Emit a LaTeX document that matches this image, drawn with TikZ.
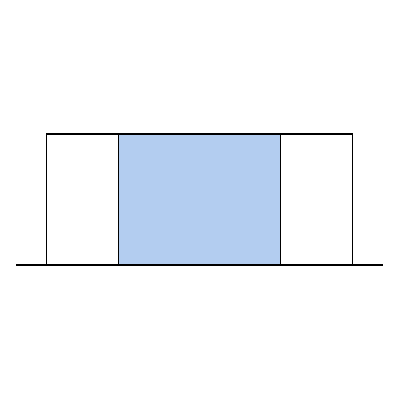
\documentclass[tikz,border=0pt]{standalone}
\begin{document}
\begin{tikzpicture}[x=1pt,y=-1pt,
  box/.style={draw=black,line width=1.2pt},
  base/.style={draw=black,line width=1.2pt}]
\definecolor{midblue}{RGB}{179,205,240}
\useasboundingbox (0,0) rectangle (400,400);
\fill[white] (0,0) rectangle (400,400);
\path[box,fill=white] (46.7,134) rectangle (118.3,265);
\path[box,fill=midblue] (118.3,134) rectangle (280.7,265);
\path[box,fill=white] (280.7,134) rectangle (352.3,265);
\coordinate (bl) at (16,265);
\coordinate (br) at (382.7,265);
\draw[base] (bl) -- (br);
\end{tikzpicture}
\end{document}
